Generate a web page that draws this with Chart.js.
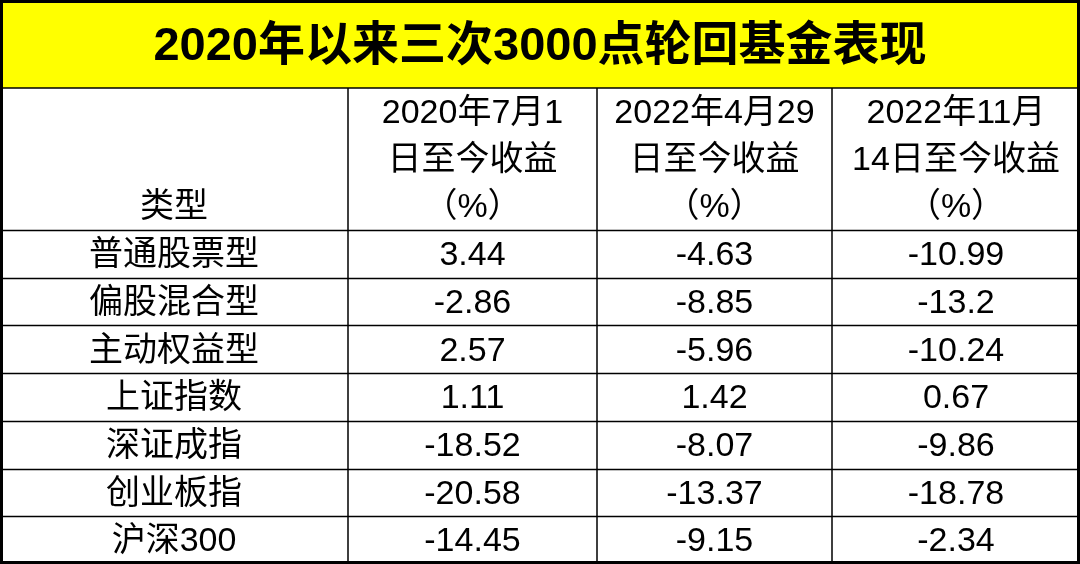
<!DOCTYPE html>
<html><head><meta charset="utf-8">
<script src="https://cdn.jsdelivr.net/npm/chart.js@4"></script>
<style>html,body{margin:0;padding:0;background:#fff}#wrap{width:1080px;height:564px}</style>
</head><body><div id="wrap"><canvas id="c"></canvas></div>
<script>
var title = '2020年以来三次3000点轮回基金表现';
var headers = [
    ['', '', '类型'],
    ['2020年7月1', '日至今收益', '（%）'],
    ['2022年4月29', '日至今收益', '（%）'],
    ['2022年11月', '14日至今收益', '（%）']
];
var categories = ['普通股票型', '偏股混合型', '主动权益型', '上证指数', '深证成指', '创业板指', '沪深300'];
var since20200701 = ['3.44', '-2.86', '2.57', '1.11', '-18.52', '-20.58', '-14.45'];
var since20220429 = ['-4.63', '-8.85', '-5.96', '1.42', '-8.07', '-13.37', '-9.15'];
var since20221114 = ['-10.99', '-13.2', '-10.24', '0.67', '-9.86', '-18.78', '-2.34'];

// layout in scale units (x: 0..1080, y: 0..564)
var colEdges = [0, 348, 597, 832, 1080];
var titleBottom = 88, headerBottom = 230, rowH = 47.7;
var font = '"Liberation Sans", "Noto Sans CJK SC", sans-serif';

var tablePlugin = {
    id: 'table',
    afterDraw: function (chart) {
        var ctx = chart.ctx, x = chart.scales.x, y = chart.scales.y;
        var X = function (v) { return x.getPixelForValue(v); };
        var Y = function (v) { return y.getPixelForValue(v); };
        ctx.save();
        ctx.fillStyle = '#ffff00';
        ctx.fillRect(X(0), Y(0), X(1080) - X(0), Y(titleBottom) - Y(0));
        ctx.fillStyle = '#000';
        ctx.textAlign = 'center';
        ctx.textBaseline = 'middle';
        ctx.font = 'bold 47px ' + font;
        ctx.fillText(title, X(540), Y(47));

        ctx.font = '34px ' + font;
        headers.forEach(function (lines, c) {
            var cx = (colEdges[c] + colEdges[c + 1]) / 2;
            lines.forEach(function (t, i) {
                if (t) ctx.fillText(t, X(cx), Y(titleBottom + 26 + i * 47));
            });
        });
        var cols = [categories, since20200701, since20220429, since20221114];
        cols.forEach(function (vals, c) {
            var cx = (colEdges[c] + colEdges[c + 1]) / 2;
            vals.forEach(function (t, r) {
                ctx.fillText(t, X(cx), Y(headerBottom + rowH * (r + 0.5) + 2));
            });
        });

        ctx.strokeStyle = '#000';
        ctx.lineWidth = 1.5;
        ctx.beginPath();
        for (var r = 0; r <= categories.length; r++) {
            var yy = Math.round(Y(headerBottom + r * rowH)) + 0.5;
            ctx.moveTo(X(0), yy); ctx.lineTo(X(1080), yy);
        }
        ctx.moveTo(X(0), Y(titleBottom)); ctx.lineTo(X(1080), Y(titleBottom));
        colEdges.slice(1, -1).forEach(function (e) {
            ctx.moveTo(X(e), Y(titleBottom)); ctx.lineTo(X(e), Y(564));
        });
        ctx.stroke();
        ctx.lineWidth = 3;
        ctx.strokeRect(X(0) + 1.5, Y(0) + 1.5, X(1080) - X(0) - 3, Y(564) - Y(0) - 3);
        ctx.restore();
    }
};

new Chart(document.getElementById('c'), {
    type: 'scatter',
    data: { datasets: [{ data: [] }] },
    options: {
        responsive: true,
        maintainAspectRatio: false,
        animation: false,
        layout: { padding: 0 },
        plugins: { legend: { display: false }, tooltip: { enabled: false } },
        scales: {
            x: { type: 'linear', min: 0, max: 1080, display: false },
            y: { type: 'linear', min: 0, max: 564, reverse: true, display: false }
        }
    },
    plugins: [tablePlugin]
});
</script></body></html>
